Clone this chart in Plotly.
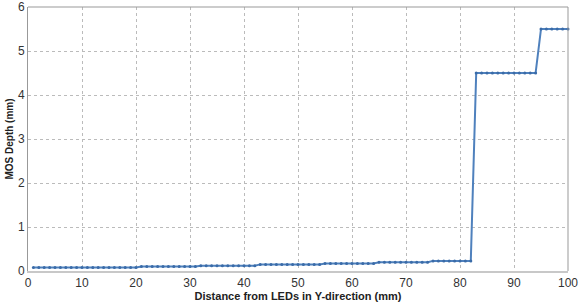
import plotly.graph_objects as go

distance_mm = list(range(1, 101))
mos_depth_mm = [
    0.08, 0.08, 0.08, 0.08, 0.08, 0.08, 0.08, 0.08, 0.08, 0.08,
    0.08, 0.08, 0.08, 0.08, 0.08, 0.08, 0.08, 0.08, 0.08, 0.08,
    0.10, 0.10, 0.10, 0.10, 0.10, 0.10, 0.10, 0.10, 0.10, 0.10,
    0.10, 0.12, 0.12, 0.12, 0.12, 0.12, 0.12, 0.12, 0.12, 0.12,
    0.12, 0.12, 0.15, 0.15, 0.15, 0.15, 0.15, 0.15, 0.15, 0.15,
    0.15, 0.15, 0.15, 0.15, 0.17, 0.17, 0.17, 0.17, 0.17, 0.17,
    0.17, 0.17, 0.17, 0.17, 0.20, 0.20, 0.20, 0.20, 0.20, 0.20,
    0.20, 0.20, 0.20, 0.20, 0.23, 0.23, 0.23, 0.23, 0.23, 0.23,
    0.23, 0.23, 4.50, 4.50, 4.50, 4.50, 4.50, 4.50, 4.50, 4.50,
    4.50, 4.50, 4.50, 4.50, 5.50, 5.50, 5.50, 5.50, 5.50, 5.50,
]
x_ticks = [0, 10, 20, 30, 40, 50, 60, 70, 80, 90, 100]
y_ticks = [0, 1, 2, 3, 4, 5, 6]

fig = go.Figure()
fig.add_trace(go.Scatter(
    x=distance_mm, y=mos_depth_mm, mode="lines+markers",
    line=dict(color="#4F81BD", width=2),
    marker=dict(color="#3A6BA8", size=3),
    showlegend=False, cliponaxis=False,
))

font = "Liberation Sans, Arial, sans-serif"
fig.update_layout(
    width=579, height=303,
    margin=dict(l=28, r=11, t=7, b=32),
    paper_bgcolor="white", plot_bgcolor="white",
    font=dict(family=font, size=12, color="#222222"),
)
fig.update_xaxes(
    range=[0, 100], tickvals=x_ticks, ticks="", tickfont=dict(size=12, color="#333"),
    ticklabeloverflow="allow", automargin=False,
    showgrid=True, gridcolor="#BBBBBB", griddash="dot", gridwidth=1,
    showline=True, linecolor="#C8C8C8", linewidth=2, mirror=False,
    zeroline=False,
    title=dict(text="<b>Distance from LEDs in Y-direction (mm)</b>", font=dict(size=11, color="#222"), standoff=0),
)
fig.update_yaxes(
    range=[0, 6], tickvals=y_ticks, ticks="", tickfont=dict(size=12, color="#333"),
    ticklabeloverflow="allow", automargin=False,
    showgrid=True, gridcolor="#BBBBBB", griddash="dot", gridwidth=1,
    showline=True, linecolor="#999999", linewidth=1,
    zeroline=False,
    title=dict(text="<b>MOS Depth (mm)</b>", font=dict(size=10, color="#222"), standoff=2),
)
# frame on top and right
fig.add_shape(type="line", xref="paper", yref="paper", x0=0, x1=1, y0=1, y1=1,
              line=dict(color="#999999", width=1))
fig.add_shape(type="line", xref="paper", yref="paper", x0=1, x1=1, y0=0, y1=1,
              line=dict(color="#999999", width=1))

fig.write_html("out.html")
